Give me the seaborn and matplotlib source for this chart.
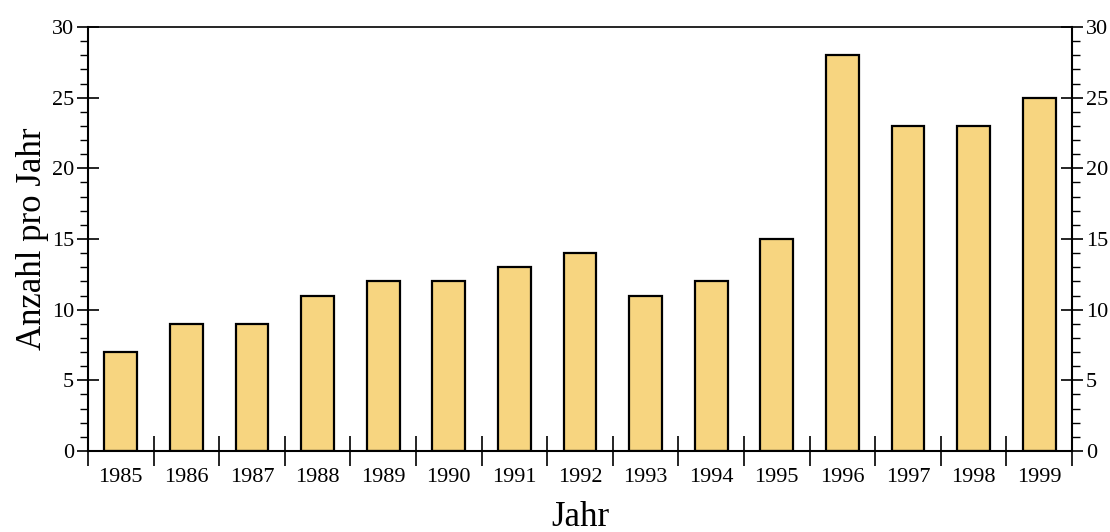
import matplotlib
matplotlib.use("Agg")
import matplotlib.pyplot as plt
import seaborn as sns
import pandas as pd
from matplotlib.ticker import MultipleLocator, FixedLocator

years = ["1985", "1986", "1987", "1988", "1989", "1990", "1991", "1992",
         "1993", "1994", "1995", "1996", "1997", "1998", "1999"]
counts = [7, 9, 9, 11, 12, 12, 13, 14, 11, 12, 15, 28, 23, 23, 25]
y_ticks = [0, 5, 10, 15, 20, 25, 30]

sns.set_style("white")
plt.rcParams['font.family'] = ['Liberation Serif', 'DejaVu Serif']
plt.rcParams['text.color'] = 'black'
plt.rcParams['axes.labelcolor'] = 'black'
plt.rcParams['xtick.color'] = 'black'
plt.rcParams['ytick.color'] = 'black'

df = pd.DataFrame({"Jahr": years, "Anzahl": counts})

fig = plt.figure(figsize=(11.1, 5.32), dpi=100)
ax = fig.add_axes([0.0793, 0.1523, 0.8865, 0.7969])

sns.barplot(data=df, x="Jahr", y="Anzahl", color="#F7D580", saturation=1,
            width=0.5, edgecolor="black", linewidth=1.6, ax=ax)

ax.set_xlim(-0.5, len(years) - 0.5)
ax.set_ylim(0, 30)

for s in ax.spines.values():
    s.set_visible(True)
    s.set_color("black")
    s.set_linewidth(1.5)
ax.spines["top"].set_linewidth(1.2)

ax.set_yticks(y_ticks)
ax.yaxis.set_minor_locator(MultipleLocator(1))
ax.tick_params(axis="y", which="major", direction="inout", length=16, width=1.2,
               labelsize=16, pad=2, left=True, colors="black")
ax.tick_params(axis="y", which="minor", direction="out", length=6, width=1.0,
               left=True, colors="black")

ax.xaxis.set_minor_locator(FixedLocator([i - 0.5 for i in range(len(years) + 1)]))
ax.tick_params(axis="x", which="major", length=0, labelsize=16, pad=12, colors="black")
ax.tick_params(axis="x", which="minor", direction="inout", length=22, width=1.2,
               bottom=True, colors="black")

ax2 = ax.twinx()
ax2.set_ylim(0, 30)
ax2.set_yticks(y_ticks)
ax2.yaxis.set_minor_locator(MultipleLocator(1))
ax2.tick_params(axis="y", which="major", direction="inout", length=16, width=1.2,
                labelsize=16, pad=2, right=True, colors="black")
ax2.tick_params(axis="y", which="minor", direction="out", length=6, width=1.0,
                right=True, colors="black")
for s in ax2.spines.values():
    s.set_visible(False)

ax.set_ylabel("Anzahl pro Jahr", fontsize=25, labelpad=2, color="black")
ax.set_xlabel("Jahr", fontsize=25, labelpad=10, color="black")

fig.savefig("out.png", dpi=100)
